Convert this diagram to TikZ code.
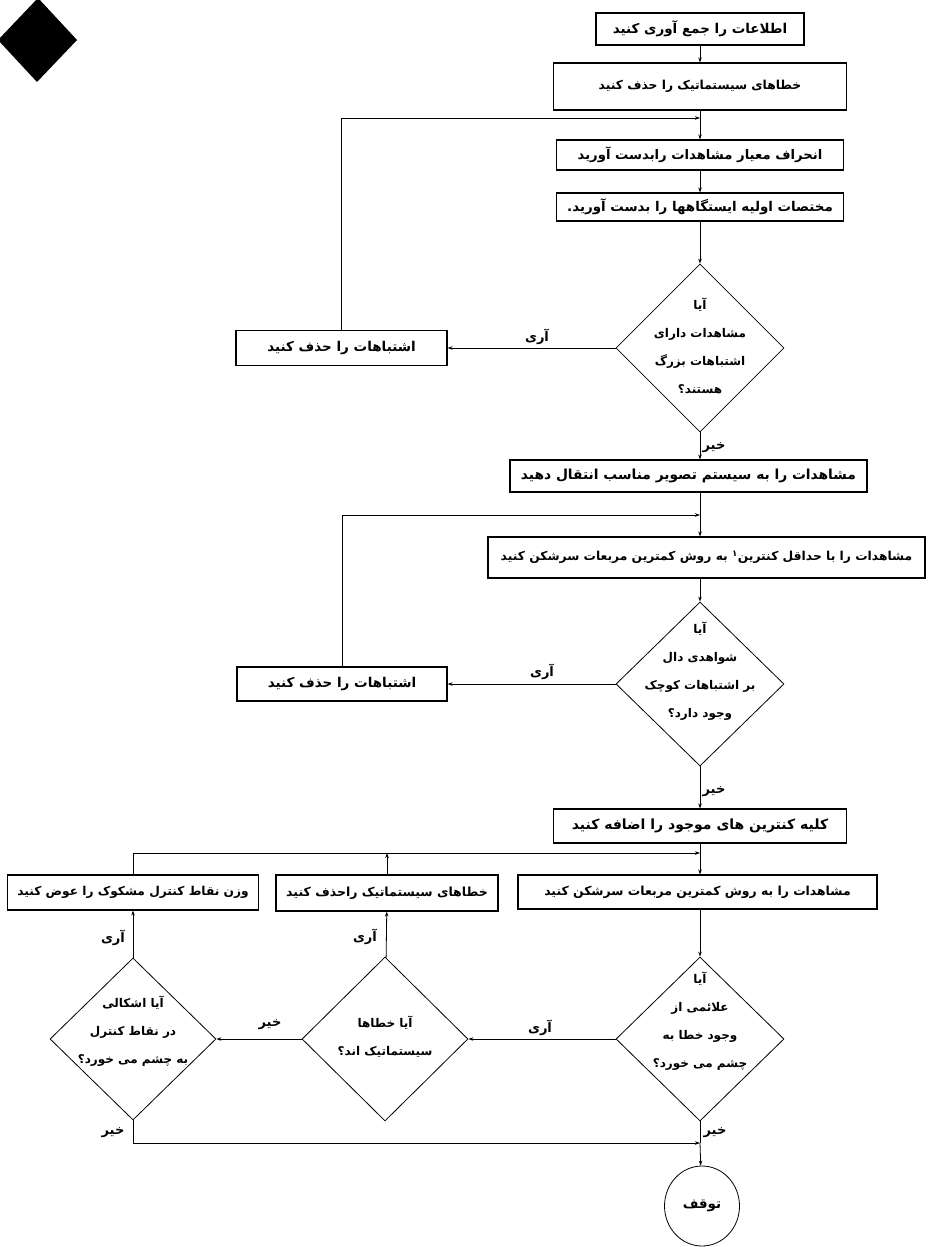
\documentclass[tikz,border=0pt]{standalone}
\usepackage{fontspec}
\usepackage{tikz}
\usetikzlibrary{shapes.geometric,arrows.meta}
\TeXXeTstate=1
\newfontfamily\farsi[Script=Arabic]{DejaVu Sans}
\newcommand{\fatext}[1]{\beginR #1\endR}

\begin{document}
\begin{tikzpicture}[x=1pt,y=-1pt,
  txt/.style={font=\farsi\bfseries\fontsize{#1}{16}\selectfont},
  box/.style={draw,line width=1.1pt,rectangle,inner sep=0pt,txt=13.5},
  ask/.style={draw,line width=.8pt,diamond,inner sep=0pt},
  asktext/.style={align=center,inner sep=0pt,font=\farsi\bfseries\fontsize{12}{28}\selectfont},
  ans/.style={inner sep=1pt,font=\farsi\bfseries\fontsize{13}{15}\selectfont},
  flow/.style={line width=.8pt,-{Stealth[length=5pt,width=3.5pt]}},
  link/.style={line width=.8pt}]
\path[use as bounding box] (0,0) rectangle (931,1247);
\fill (38,-2)--(77,40)--(37,82)--(-2,40)--cycle;
\node[box,minimum width=208pt,minimum height=32pt] (gather) at (700,29) {\fatext{اطلاعات را جمع آوری کنید}};
\node[box,txt=12.3,minimum width=293pt,minimum height=47pt] (sysdel) at (700,86.5) {\fatext{خطاهای سیستماتیک را حذف کنید}};
\node[box,txt=13.2,minimum width=287pt,minimum height=30pt] (stddev) at (700,155) {\fatext{انحراف معیار مشاهدات رابدست آورید}};
\node[box,txt=13.4,minimum width=287pt,minimum height=28pt] (approx) at (700,207) {\fatext{مختصات اولیه ایستگاهها را بدست آورید.}};
\node[ask,minimum width=168pt,minimum height=168pt] (bigq) at (700,348) {};
\node[asktext] (bigq-t) at (700,346) {\fatext{آیا}\\\fatext{مشاهدات دارای}\\\fatext{اشتباهات بزرگ}\\\fatext{هستند؟}};
\node[box,minimum width=211pt,minimum height=35pt] (bigdel) at (341.5,348) {\fatext{اشتباهات را حذف کنید}};
\node[box,txt=13.8,minimum width=357pt,minimum height=32pt] (project) at (688.5,476) {\fatext{مشاهدات را به سیستم تصویر مناسب انتقال دهید}};
\node[box,txt=12.3,minimum width=437pt,minimum height=41pt] (adjmin) at (706.5,557.5) {\fatext{مشاهدات را با حداقل کنترین\textsuperscript{۱} به روش کمترین مربعات سرشکن کنید}};
\node[ask,minimum width=168pt,minimum height=164pt] (smallq) at (700,684) {};
\node[asktext] (smallq-t) at (700,671) {\fatext{آیا}\\\fatext{شواهدی دال}\\\fatext{بر اشتباهات کوچک}\\\fatext{وجود دارد؟}};
\node[box,minimum width=210pt,minimum height=34pt] (smalldel) at (342,684) {\fatext{اشتباهات را حذف کنید}};
\node[box,txt=14,minimum width=293pt,minimum height=34pt] (addctrl) at (700,826) {\fatext{کلیه کنترین های موجود را اضافه کنید}};
\node[box,txt=12.4,minimum width=359pt,minimum height=34pt] (adjall) at (697.5,892) {\fatext{مشاهدات را به روش کمترین مربعات سرشکن کنید}};
\node[box,txt=12.5,minimum width=222pt,minimum height=36pt] (sysfix) at (387,893) {\fatext{خطاهای سیستماتیک راحذف کنید}};
\node[box,txt=12.2,minimum width=251pt,minimum height=35pt] (reweight) at (133,892.5) {\fatext{وزن نقاط کنترل مشکوک را عوض کنید}};
\node[ask,minimum width=168pt,minimum height=164pt] (errq) at (700,1039) {};
\node[asktext] (errq-t) at (700,1021) {\fatext{آیا}\\\fatext{علائمی از}\\\fatext{وجود خطا به}\\\fatext{چشم می خورد؟}};
\node[ask,minimum width=166pt,minimum height=164pt] (sysq) at (385,1039) {};
\node[asktext] (sysq-t) at (385,1037) {\fatext{آیا خطاها}\\\fatext{سیستماتیک اند؟}};
\node[ask,minimum width=166pt,minimum height=162pt] (ctrlq) at (133,1039) {};
\node[asktext] (ctrlq-t) at (133,1031) {\fatext{آیا اشکالی}\\\fatext{در نقاط کنترل}\\\fatext{به چشم می خورد؟}};
\node[box,ellipse,line width=.8pt,minimum width=75pt,minimum height=80pt] (stop) at (702,1206) {\fatext{توقف}};
\coordinate (j1) at (700,118);
\coordinate (j2) at (700,515);
\coordinate (j3) at (700,853);
\coordinate (j4) at (700,1143);
\draw[flow] (gather) -- (sysdel);
\draw[link] (sysdel) -- (j1);
\draw[flow] (j1) -- (stddev);
\draw[flow] (bigdel) |- (j1);
\draw[flow] (stddev) -- (approx);
\draw[flow] (approx) -- (bigq);
\draw[flow] (bigq) -- (bigdel);
\draw[flow] (bigq) -- (bigq |- project.north);
\draw[link] (bigq |- project.south) -- (j2);
\draw[flow] (j2) -- (j2 |- adjmin.north);
\draw[flow] (smalldel) |- (j2);
\draw[flow] (j2 |- adjmin.south) -- (smallq);
\draw[flow] (smallq) -- (smalldel);
\draw[flow] (smallq) -- (addctrl);
\draw[link] (addctrl) -- (j3);
\draw[flow] (j3) -- (j3 |- adjall.north);
\draw[flow] (reweight) |- (j3);
\draw[flow] (sysfix) -- (sysfix |- j3);
\draw[flow] (j3 |- adjall.south) -- (errq);
\draw[flow] (errq) -- (sysq);
\draw[flow] (sysq) -- (ctrlq);
\draw[flow] (sysq) -- (sysfix);
\draw[flow] (ctrlq) -- (reweight);
\draw[flow] (ctrlq) |- (j4);
\draw[link] (errq) -- (j4);
\draw[flow] (j4) -- (stop);
\node[ans] (bigq-y) at (537,337) {\fatext{آری}};
\node[ans] (bigq-n) at (714,448) {\fatext{خیر}};
\node[ans] (smallq-y) at (542,672) {\fatext{آری}};
\node[ans] (smallq-n) at (714,792) {\fatext{خیر}};
\node[ans] (errq-y) at (540,1028) {\fatext{آری}};
\node[ans] (errq-n) at (715,1133) {\fatext{خیر}};
\node[ans] (sysq-y) at (365,937) {\fatext{آری}};
\node[ans] (sysq-n) at (270,1025) {\fatext{خیر}};
\node[ans] (ctrlq-y) at (113,938) {\fatext{آری}};
\node[ans] (ctrlq-n) at (113,1133) {\fatext{خیر}};
\end{tikzpicture}
\end{document}
